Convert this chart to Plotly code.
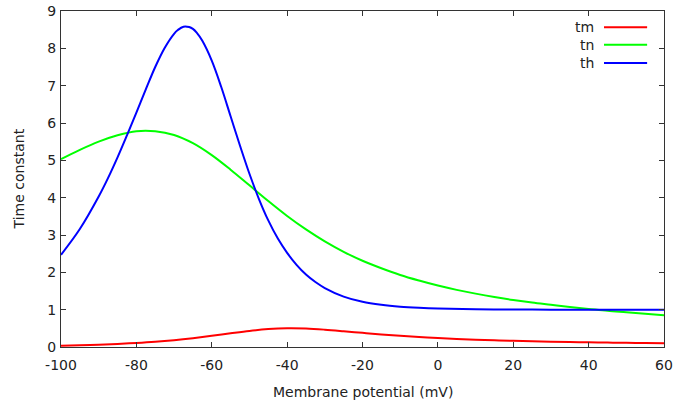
import plotly.graph_objects as go

# Membrane potential samples (mV)
V = [-100, -95, -90, -85, -80, -75, -70, -65, -60, -55, -50, -45, -40, -35, -30,
     -25, -20, -15, -10, -5, 0, 5, 10, 15, 20, 25, 30, 35, 40, 45, 50, 55, 60]

tm = [0.036, 0.047, 0.062, 0.082, 0.108, 0.141, 0.184, 0.237, 0.299, 0.367, 0.431,
      0.479, 0.501, 0.494, 0.464, 0.423, 0.379, 0.337, 0.299, 0.267, 0.239, 0.216,
      0.196, 0.180, 0.165, 0.153, 0.142, 0.133, 0.125, 0.118, 0.111, 0.105, 0.100]

tn = [5.03, 5.28, 5.50, 5.67, 5.78, 5.78, 5.68, 5.46, 5.14, 4.75, 4.33, 3.91, 3.51,
      3.15, 2.83, 2.55, 2.31, 2.11, 1.93, 1.78, 1.645, 1.53, 1.43, 1.34, 1.26, 1.19,
      1.13, 1.07, 1.02, 0.97, 0.93, 0.89, 0.85]

V_h = [-100, -95, -90, -87.5, -85, -82.5, -80, -77.5, -75, -72.5, -70, -69, -67.5,
       -66, -65, -64, -62.5, -60, -57.5, -55, -52.5, -50, -47.5, -45, -42.5, -40,
       -37.5, -35, -32.5, -30, -25, -20, -15, -10, -5, 0, 10, 20, 30, 40, 50, 60]
th = [2.47, 3.16, 4.03, 4.53, 5.08, 5.67, 6.28, 6.90, 7.50, 8.01, 8.39, 8.49, 8.58,
      8.57, 8.52, 8.42, 8.20, 7.67, 6.97, 6.18, 5.39, 4.64, 3.97, 3.39, 2.91, 2.52,
      2.20, 1.94, 1.74, 1.58, 1.35, 1.21, 1.13, 1.08, 1.05, 1.03, 1.01, 1.003, 1.001,
      1.0, 1.0, 1.0]

names = ["tm", "tn", "th"]
colors = ["#ff0000", "#00ff00", "#0000ff"]
xs = [V, V, V_h]
ys = [tm, tn, th]

x_ticks = [-100, -80, -60, -40, -20, 0, 20, 40, 60]
x_ticktext = [str(t) for t in x_ticks]  # plain hyphen minus like the original
y_ticks = list(range(10))

FONT = "DejaVu Sans"
TXT = "#222222"

fig = go.Figure()
for n, c, x, y in zip(names, colors, xs, ys):
    fig.add_trace(go.Scatter(x=x, y=y, mode="lines", name=n,
                             line=dict(color=c, width=2, shape="spline", smoothing=1.0),
                             showlegend=False, hoverinfo="skip"))

# gnuplot-style legend: label on the left, line sample on the right
leg_y = [0.9515, 0.8997, 0.845]
for n, c, yy in zip(names, colors, leg_y):
    fig.add_annotation(x=0.887, y=yy, xref="paper", yref="paper", text=n,
                       showarrow=False, xanchor="right", yanchor="middle",
                       font=dict(family=FONT, size=14, color=TXT))
    fig.add_shape(type="line", xref="paper", yref="paper", x0=0.9005, x1=0.972,
                  y0=yy, y1=yy, line=dict(color=c, width=2))

# axis titles
fig.add_annotation(x=0.5, y=-0.134, xref="paper", yref="paper",
                   text="Membrane potential (mV)", showarrow=False,
                   xanchor="center", yanchor="middle",
                   font=dict(family=FONT, size=14, color=TXT))
fig.add_annotation(x=-0.069, y=0.5, xref="paper", yref="paper",
                   text="Time constant", showarrow=False, textangle=-90,
                   xanchor="center", yanchor="middle",
                   font=dict(family=FONT, size=14, color=TXT))

axis_common = dict(showgrid=False, zeroline=False, showline=True, mirror="ticks",
                   linecolor="#333333", linewidth=1, ticks="inside", ticklen=5,
                   tickcolor="#333333", tickwidth=1, automargin=False,
                   tickfont=dict(family=FONT, size=14, color=TXT))

fig.update_xaxes(range=[-100, 60], tickvals=x_ticks, ticktext=x_ticktext,
                 ticklabelstandoff=5, **axis_common)
fig.update_yaxes(range=[0, 9], tickvals=y_ticks, ticktext=[str(t) for t in y_ticks],
                 ticklabelstandoff=1, **axis_common)

fig.update_layout(width=673, height=405, margin=dict(l=61, r=9, t=11, b=58),
                  plot_bgcolor="white", paper_bgcolor="white")

fig.write_html("out.html")
